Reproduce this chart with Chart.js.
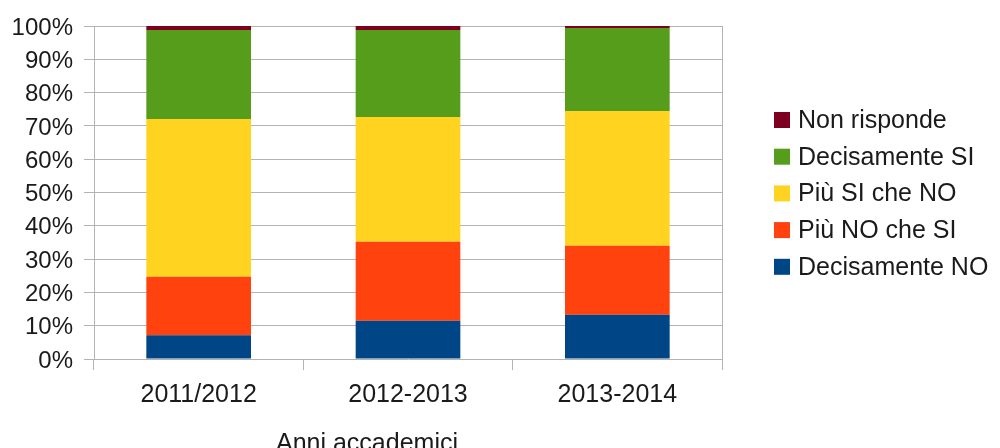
<!DOCTYPE html>
<html lang="it">
<head>
    <meta charset="UTF-8">
    <title>Anni accademici</title>
    <style>
        body {
            margin: 0;
            background: #fff;
        }

        .chart-container {
            width: 1000px;
            height: 448px;
        }
    </style>
</head>
<body>
    <div class="chart-container">
        <canvas id="stackChart"></canvas>
    </div>

    <script src="https://cdn.jsdelivr.net/npm/chart.js"></script>

    <script>
        // Anni accademici
        const categories = ['2011/2012', '2012-2013', '2013-2014'];

        // percentuali per risposta (dal basso verso l'alto)
        const decisamenteNo = [7.1, 11.5, 13.3];
        const piuNoCheSi = [17.6, 23.7, 20.7];
        const piuSiCheNo = [47.4, 37.5, 40.5];
        const decisamenteSi = [26.7, 26.1, 24.9];
        const nonRisponde = [1.2, 1.2, 0.6];

        const yTicks = [0, 10, 20, 30, 40, 50, 60, 70, 80, 90, 100];

        const fontFamily = '"Liberation Sans", Arial, sans-serif';
        const textColor = '#1a1a1a';
        const gridColor = '#b3b3b3';

        // legenda a destra, ordine inverso rispetto allo stack
        const sideLegend = {
            id: 'sideLegend',
            afterDraw(chart) {
                const ctx = chart.ctx;
                const sets = chart.data.datasets.slice().reverse();
                ctx.save();
                ctx.font = '25px ' + fontFamily;
                ctx.textBaseline = 'middle';
                ctx.textAlign = 'left';
                sets.forEach((ds, i) => {
                    const cy = 120 + i * 36.7;
                    ctx.fillStyle = ds.backgroundColor;
                    ctx.fillRect(774, cy - 8, 16, 16);
                    ctx.fillStyle = textColor;
                    ctx.fillText(ds.label, 798, cy + 1);
                });
                // titolo asse x
                ctx.textAlign = 'center';
                ctx.textBaseline = 'alphabetic';
                ctx.fillText('Anni accademici', 367, 451);
                // bordo destro dell'area del grafico
                const a = chart.chartArea;
                ctx.strokeStyle = gridColor;
                ctx.lineWidth = 1;
                ctx.beginPath();
                ctx.moveTo(Math.round(a.right) + 0.5, a.top);
                ctx.lineTo(Math.round(a.right) + 0.5, a.bottom + 11);
                ctx.stroke();
                ctx.restore();
            }
        };

        const ctx = document.getElementById('stackChart').getContext('2d');
        const stackChart = new Chart(ctx, {
            type: 'bar',
            data: {
                labels: categories,
                datasets: [
                    { label: 'Decisamente NO', data: decisamenteNo, backgroundColor: '#004586' },
                    { label: 'Più NO che SI', data: piuNoCheSi, backgroundColor: '#ff420e' },
                    { label: 'Più SI che NO', data: piuSiCheNo, backgroundColor: '#ffd320' },
                    { label: 'Decisamente SI', data: decisamenteSi, backgroundColor: '#579d1c' },
                    { label: 'Non risponde', data: nonRisponde, backgroundColor: '#7e0021' }
                ]
            },
            options: {
                responsive: true,
                maintainAspectRatio: false,
                animation: false,
                barPercentage: 0.5,
                categoryPercentage: 1.0,
                layout: {
                    padding: { top: 26, right: 278, left: 0, bottom: 0 }
                },
                plugins: {
                    legend: { display: false },
                    tooltip: { enabled: false }
                },
                scales: {
                    x: {
                        stacked: true,
                        afterFit: (scale) => { scale.height = 89; },
                        grid: {
                            drawOnChartArea: false,
                            color: gridColor,
                            tickLength: 11,
                            offset: true
                        },
                        border: { display: false },
                        ticks: {
                            color: textColor,
                            padding: 10,
                            maxRotation: 0,
                            font: { family: fontFamily, size: 25 }
                        }
                    },
                    y: {
                        stacked: true,
                        min: 0,
                        max: 100,
                        afterFit: (scale) => { scale.width = 94; },
                        afterBuildTicks: (scale) => {
                            scale.ticks = yTicks.map(v => ({ value: v }));
                        },
                        grid: {
                            color: gridColor,
                            tickLength: 10
                        },
                        border: { color: gridColor },
                        ticks: {
                            color: textColor,
                            padding: 11,
                            labelOffset: 2,
                            font: { family: fontFamily, size: 24 },
                            callback: (v) => v + '%'
                        }
                    }
                }
            },
            plugins: [sideLegend]
        });
    </script>
</body>
</html>
